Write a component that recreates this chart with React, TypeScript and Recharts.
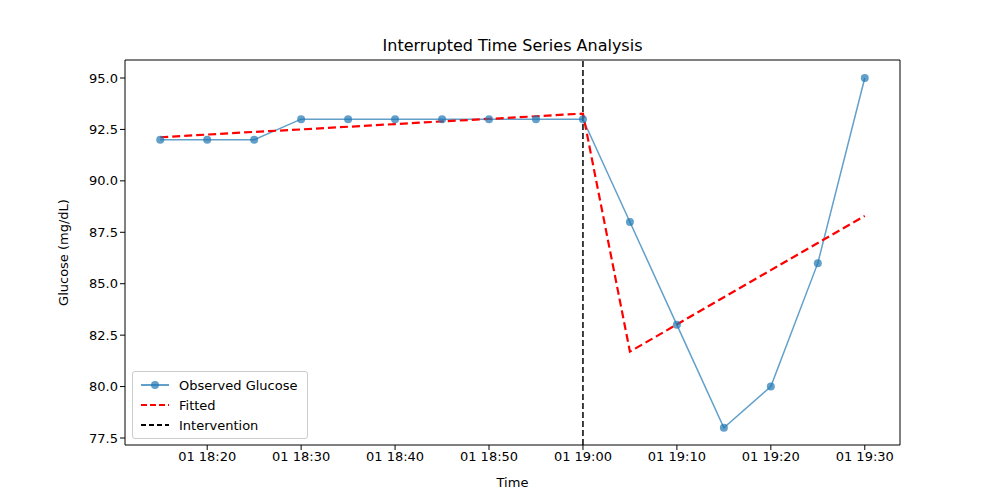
import { CartesianGrid, ComposedChart, Line, ReferenceLine, XAxis, YAxis } from "recharts";

// minutes since 18:00
const minutes = [15, 20, 25, 30, 35, 40, 45, 50, 55, 60, 65, 70, 75, 80, 85, 90];
const observed = [92, 92, 92, 93, 93, 93, 93, 93, 93, 93, 88, 83, 78, 80, 86, 95];
const fitted = [92.12, 92.25, 92.38, 92.5, 92.63, 92.76, 92.89, 93.01, 93.14, 93.27, 81.7, 83.02, 84.34, 85.66, 86.98, 88.3];
const xTicks = [20, 30, 40, 50, 60, 70, 80, 90];
const xTickLabels = ["01 18:20", "01 18:30", "01 18:40", "01 18:50", "01 19:00", "01 19:10", "01 19:20", "01 19:30"];
const yTicks = [77.5, 80, 82.5, 85, 87.5, 90, 92.5, 95];

const data = minutes.map((m, i) => ({ t: m, observed: observed[i], fitted: fitted[i] }));
const font = "DejaVu Sans, sans-serif";

export default function App() {
  return (
    <div style={{ position: "absolute", left: 0, top: 0, width: 1000, height: 500, background: "#fff", fontFamily: font }}>
      <div style={{ position: "absolute", top: 36, left: 125, width: 775, textAlign: "center", fontSize: 16 }}>
        Interrupted Time Series Analysis
      </div>
      <ComposedChart width={1000} height={500} data={data} margin={{ top: 60, right: 100, bottom: 25, left: 65 }}>
        <CartesianGrid fill="none" stroke="none" />
        <XAxis
          dataKey="t"
          type="number"
          domain={[11.25, 93.75]}
          ticks={xTicks}
          tickFormatter={(v) => xTickLabels[xTicks.indexOf(v)]}
          tick={{ fill: "#000", fontSize: 13 }}
          stroke="#000"
          tickSize={5}
          height={30}
          label={{ value: "Time", position: "insideBottom", offset: -12, fill: "#000", fontSize: 13 }}
        />
        <YAxis
          type="number"
          domain={[77.16, 95.875]}
          ticks={yTicks}
          tickFormatter={(v) => v.toFixed(1)}
          tick={{ fill: "#000", fontSize: 13 }}
          stroke="#000"
          tickSize={5}
          width={60}
          label={{ value: "Glucose (mg/dL)", angle: -90, position: "insideLeft", offset: -2, fill: "#000", fontSize: 13, style: { textAnchor: "middle" } }}
        />
        <ReferenceLine x={60} stroke="#000" strokeDasharray="6 3" strokeWidth={1.5} />
        <Line dataKey="observed" stroke="#1f77b4" strokeOpacity={0.7} strokeWidth={1.5} dot={{ r: 4, fill: "#1f77b4", fillOpacity: 0.7, stroke: "none" }} isAnimationActive={false} />
        <Line dataKey="fitted" stroke="#ff0000" strokeWidth={2.2} strokeDasharray="8 4" dot={false} isAnimationActive={false} />
        <line x1={125} y1={60} x2={900} y2={60} stroke="#000" />
        <line x1={900} y1={60} x2={900} y2={445} stroke="#000" />
      </ComposedChart>
      <div style={{ position: "absolute", left: 132, top: 371, width: 174, height: 66, border: "1px solid #ccc", borderRadius: 3, background: "rgba(255,255,255,0.8)", fontSize: 13 }}>
        {[
          { label: "Observed Glucose", color: "#1f77b4", dash: "", dot: true, op: 0.7 },
          { label: "Fitted", color: "#ff0000", dash: "6 3", dot: false, op: 1 },
          { label: "Intervention", color: "#000", dash: "5 3", dot: false, op: 1 },
        ].map((it, i) => (
          <div key={i} style={{ position: "absolute", left: 8, top: 3 + i * 20, display: "flex", alignItems: "center", height: 20 }}>
            <svg width={30} height={10}>
              <line x1={0} y1={5} x2={28} y2={5} stroke={it.color} strokeOpacity={it.op} strokeWidth={2} strokeDasharray={it.dash} />
              {it.dot && <circle cx={14} cy={5} r={4} fill={it.color} fillOpacity={0.7} />}
            </svg>
            <span style={{ marginLeft: 8 }}>{it.label}</span>
          </div>
        ))}
      </div>
    </div>
  );
}
